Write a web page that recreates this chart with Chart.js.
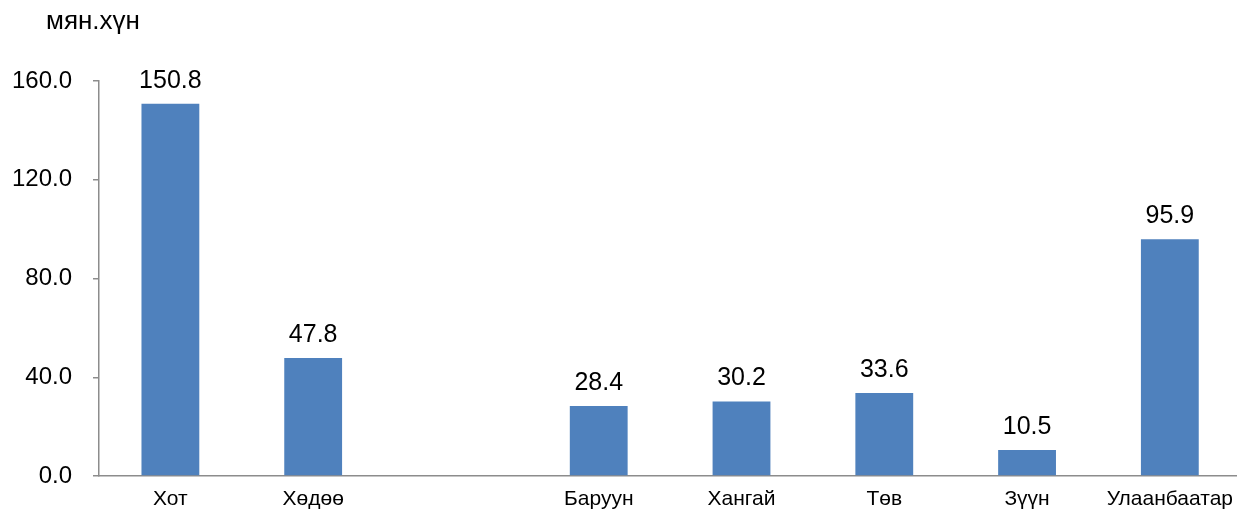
<!DOCTYPE html>
<html>
<head>
<meta charset="utf-8">
<script src="https://cdn.jsdelivr.net/npm/chart.js@4.4.1/dist/chart.umd.min.js"></script>
<style>
  html, body { margin: 0; padding: 0; background: #fff; overflow: hidden; }
  #wrap { width: 1244px; height: 512px; }
</style>
</head>
<body>
<div id="wrap"><canvas id="graph" width="1244" height="512"></canvas></div>
<script>
// population, thousand people
const regions = ["Хот", "Хөдөө", "", "Баруун", "Хангай", "Төв", "Зүүн", "Улаанбаатар"];
const people = [150.8, 47.8, null, 28.4, 30.2, 33.6, 10.5, 95.9];
const yTicks = [0, 40, 80, 120, 160];
const unitLabel = "мян.хүн";

const font = "'Liberation Sans', Arial, sans-serif";

// values over the bars
const barLabels = {
    id: 'barLabels',
    afterDatasetsDraw(chart) {
        const ctx = chart.ctx;
        const meta = chart.getDatasetMeta(0);
        ctx.save();
        ctx.font = "25px " + font;
        ctx.fillStyle = "#000";
        ctx.textAlign = "center";
        ctx.textBaseline = "alphabetic";
        meta.data.forEach((bar, i) => {
            if (people[i] == null) return;
            ctx.fillText(people[i].toFixed(1), bar.x, bar.y - 16);
        });
        ctx.restore();
    }
};

// unit text top left
const unitText = {
    id: 'unitText',
    afterDraw(chart) {
        const ctx = chart.ctx;
        ctx.save();
        ctx.font = "26px " + font;
        ctx.fillStyle = "#000";
        ctx.textAlign = "left";
        ctx.textBaseline = "middle";
        ctx.fillText(unitLabel, chart.chartArea.left - 53, 22);
        ctx.restore();
    }
};

new Chart(document.getElementById("graph"), {
    type: 'bar',
    data: {
        labels: regions,
        datasets: [{
            data: people,
            backgroundColor: "#4F81BD",
            barPercentage: 0.405,
            categoryPercentage: 1.0
        }]
    },
    options: {
        responsive: false,
        animation: false,
        layout: { padding: { top: 81, left: 0, right: 0, bottom: 0 } },
        plugins: {
            legend: { display: false },
            tooltip: { enabled: false }
        },
        scales: {
            x: {
                afterFit(scale) { scale.height = 36; },
                grid: { display: false, tickLength: 0 },
                border: { display: true, color: "#8c8c8c", width: 1.5 },
                ticks: {
                    color: "#000",
                    font: { family: font, size: 21 },
                    autoSkip: false,
                    maxRotation: 0,
                    padding: 11
                }
            },
            y: {
                min: 0,
                max: 160,
                afterBuildTicks(scale) {
                    scale.ticks = yTicks.map(v => ({ value: v }));
                },
                afterFit(scale) { scale.width = 99; },
                grid: {
                    drawOnChartArea: false,
                    drawTicks: true,
                    tickLength: 6,
                    color: "#8c8c8c",
                    lineWidth: 1.5
                },
                border: { display: true, color: "#8c8c8c", width: 1.5 },
                ticks: {
                    color: "#000",
                    font: { family: font, size: 24 },
                    padding: 21,
                    callback: v => Number(v).toFixed(1)
                }
            }
        }
    },
    plugins: [barLabels, unitText]
});
</script>
</body>
</html>
